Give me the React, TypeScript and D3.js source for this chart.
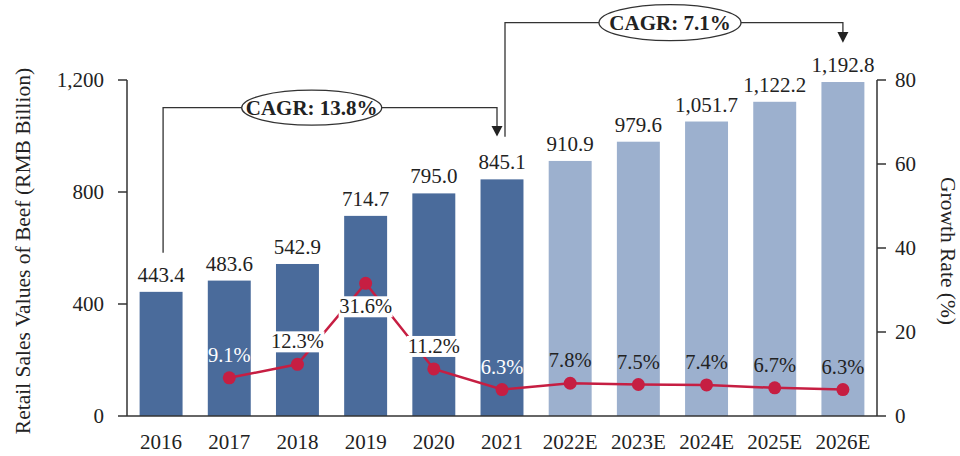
import React from "react";
import * as d3 from "d3";

const years = ["2016", "2017", "2018", "2019", "2020", "2021", "2022E", "2023E", "2024E", "2025E", "2026E"];
const salesValues = [443.4, 483.6, 542.9, 714.7, 795.0, 845.1, 910.9, 979.6, 1051.7, 1122.2, 1192.8];
const growthRates: (number | null)[] = [null, 9.1, 12.3, 31.6, 11.2, 6.3, 7.8, 7.5, 7.4, 6.7, 6.3];
const leftTicks = [0, 400, 800, 1200];
const rightTicks = [0, 20, 40, 60, 80];
const cagrHistoric = "CAGR: 13.8%";
const cagrForecast = "CAGR: 7.1%";
const leftTitle = "Retail Sales Values of Beef (RMB Billion)";
const rightTitle = "Growth Rate (%)";

const W = 960;
const H = 456;
const FONT = "'Liberation Serif', 'Times New Roman', serif";
const DARK = "#4a6b9b";
const LIGHT = "#9cb0ce";
const RED = "#c61e42";
const INK = "#222";

export default function App() {
  const x = d3.scaleBand<string>().domain(years).range([127, 877]).paddingInner(0.37).paddingOuter(0.185);
  const yL = d3.scaleLinear().domain([0, 1200]).range([416, 80]);
  const yR = d3.scaleLinear().domain([0, 80]).range([416, 80]);
  const bw = x.bandwidth();
  const cx = (y: string) => (x(y) as number) + bw / 2;

  const linePts = years
    .map((yr, i) => ({ yr, g: growthRates[i] }))
    .filter((d) => d.g !== null) as { yr: string; g: number }[];
  const line = d3
    .line<{ yr: string; g: number }>()
    .x((d) => cx(d.yr))
    .y((d) => yR(d.g));

  const boxed = new Set([2, 3, 4]);
  const below = new Set([3]);
  const whiteText = new Set([1, 5]);

  const hy1 = 107.7;
  const hy2 = 22.7;
  const x2016 = cx(years[0]) + 2;
  const x2021 = cx(years[5]);
  const x2026 = cx(years[10]);

  return (
    <svg width={W} height={H} style={{ position: "absolute", left: 0, top: 0, background: "#fff" }} fontFamily={FONT}>
      <rect width={W} height={H} fill="#fff" />
      {/* bars */}
      {years.map((yr, i) => (
        <rect
          key={yr}
          x={x(yr)}
          y={yL(salesValues[i])}
          width={bw}
          height={yL(0) - yL(salesValues[i])}
          fill={yr.endsWith("E") ? LIGHT : DARK}
        />
      ))}
      {/* value labels */}
      {years.map((yr, i) => (
        <text key={"v" + yr} x={cx(yr)} y={yL(salesValues[i]) - 10} textAnchor="middle" fontSize={21} fill={INK}>
          {d3.format(",.1f")(salesValues[i])}
        </text>
      ))}
      {/* growth line */}
      <path d={line(linePts) || ""} fill="none" stroke={RED} strokeWidth={2.5} />
      {linePts.map((d) => (
        <circle key={"c" + d.yr} cx={cx(d.yr)} cy={yR(d.g)} r={6.5} fill={RED} />
      ))}
      {/* growth labels */}
      {years.map((yr, i) => {
        const g = growthRates[i];
        if (g === null) return null;
        const base = below.has(i) ? yR(g) + 30 : yR(g) - 16;
        return (
          <g key={"g" + yr}>
            {boxed.has(i) && <rect x={cx(yr) - 27} y={base - 17} width={54} height={21} fill="#fff" />}
            <text x={cx(yr)} y={base} textAnchor="middle" fontSize={20.5} fill={whiteText.has(i) ? "#fff" : INK}>
              {g.toFixed(1) + "%"}
            </text>
          </g>
        );
      })}
      {/* axes */}
      <line x1={127} x2={877} y1={416} y2={416} stroke="#333" strokeWidth={1.5} />
      <line x1={127} x2={127} y1={80} y2={416} stroke="#333" strokeWidth={1.5} />
      <line x1={877} x2={877} y1={80} y2={416} stroke="#333" strokeWidth={1.5} />
      {leftTicks.map((t) => (
        <g key={"lt" + t}>
          <line x1={118} x2={127} y1={yL(t)} y2={yL(t)} stroke="#333" strokeWidth={1.5} />
          <text x={104} y={yL(t) + 7} textAnchor="end" fontSize={21} fill={INK}>
            {d3.format(",")(t)}
          </text>
        </g>
      ))}
      {rightTicks.map((t) => (
        <g key={"rt" + t}>
          <line x1={877} x2={886} y1={yR(t)} y2={yR(t)} stroke="#333" strokeWidth={1.5} />
          <text x={895} y={yR(t) + 7} textAnchor="start" fontSize={21} fill={INK}>
            {t}
          </text>
        </g>
      ))}
      {years.map((yr) => (
        <text key={"x" + yr} x={cx(yr)} y={449} textAnchor="middle" fontSize={21} fill={INK}>
          {yr}
        </text>
      ))}
      <text transform={`translate(30,251) rotate(-90)`} textAnchor="middle" fontSize={21.5} fill={INK}>
        {leftTitle}
      </text>
      <text transform={`translate(941,251) rotate(90)`} textAnchor="middle" fontSize={21.5} fill={INK}>
        {rightTitle}
      </text>
      {/* CAGR historic */}
      <path
        d={`M${x2016},252.7 V${hy1} H${x2021 - 5} V${126}`}
        fill="none"
        stroke="#333"
        strokeWidth={1.3}
      />
      <polygon points={`${x2021 - 10.5},126 ${x2021 + 0.5},126 ${x2021 - 5},136.5`} fill="#222" />
      <ellipse cx={311.7} cy={hy1} rx={70} ry={17.5} fill="#fff" stroke="#333" strokeWidth={1.3} />
      <text x={311.7} y={hy1 + 7} textAnchor="middle" fontSize={21} fontWeight="bold" fill={INK}>
        {cagrHistoric}
      </text>
      {/* CAGR forecast */}
      <path
        d={`M${x2021 + 3},136.7 V${hy2} H${x2026} V${32}`}
        fill="none"
        stroke="#333"
        strokeWidth={1.3}
      />
      <polygon points={`${x2026 - 5.5},32 ${x2026 + 5.5},32 ${x2026},42.7`} fill="#222" />
      <ellipse cx={670} cy={hy2} rx={71} ry={18} fill="#fff" stroke="#333" strokeWidth={1.3} />
      <text x={670} y={hy2 + 7} textAnchor="middle" fontSize={21} fontWeight="bold" fill={INK}>
        {cagrForecast}
      </text>
    </svg>
  );
}
